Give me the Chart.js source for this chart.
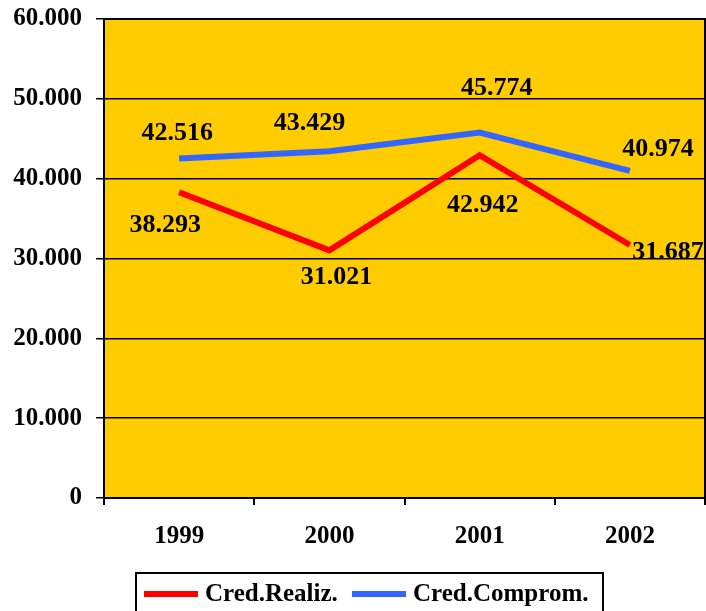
<!DOCTYPE html>
<html>
<head>
<meta charset="utf-8">
<script src="https://cdn.jsdelivr.net/npm/chart.js@4/dist/chart.umd.min.js"></script>
<style>
html,body{margin:0;padding:0;background:#fff;}
#wrap{width:706px;height:611px;position:relative;}
</style>
</head>
<body>
<div id="wrap"><canvas id="c" width="706" height="611"></canvas></div>
<script>
const categories = ['1999', '2000', '2001', '2002'];
const credRealiz = [38293, 31021, 42942, 31687];
const credComprom = [42516, 43429, 45774, 40974];
const seriesNames = ['Cred.Realiz.', 'Cred.Comprom.'];
const yTicks = [0, 10000, 20000, 30000, 40000, 50000, 60000];

// label placement offsets (style only)
const labelOffsets = [
  [[-14, 33], [7, 27], [3, 50], [38, 7]],
  [[-2, -25], [-20, -28], [17, -44], [28, -22]]
];

const FONT = "'Liberation Serif', 'Times New Roman', serif";
function fmt(v){ return v === 0 ? '0' : (v/1000).toFixed(3); }

const bgPlugin = {
  id: 'bg',
  beforeDraw(chart){
    const {ctx, chartArea:a} = chart;
    ctx.save();
    ctx.fillStyle = '#FFCC00';
    ctx.fillRect(a.left, a.top, a.right - a.left, a.bottom - a.top);
    ctx.restore();
  },
  afterDraw(chart){
    const {ctx, chartArea:a} = chart;
    ctx.save();
    ctx.strokeStyle = '#000';
    ctx.lineWidth = 2;
    ctx.strokeRect(a.left, a.top, a.right - a.left, a.bottom - a.top);
    // data labels
    ctx.fillStyle = '#000';
    ctx.font = 'bold 26px ' + FONT;
    ctx.textAlign = 'center';
    ctx.textBaseline = 'middle';
    chart.data.datasets.forEach((ds, di) => {
      const meta = chart.getDatasetMeta(di);
      meta.data.forEach((pt, i) => {
        const off = labelOffsets[di][i];
        ctx.fillText(fmt(ds.data[i]), pt.x + off[0], pt.y + off[1]);
      });
    });
    // legend
    ctx.lineWidth = 2;
    ctx.strokeStyle = '#000';
    ctx.strokeRect(136, 573, 467, 60);
    const items = [
      {x: 144, color: chart.data.datasets[0].borderColor, text: chart.data.datasets[0].label},
      {x: 352, color: chart.data.datasets[1].borderColor, text: chart.data.datasets[1].label}
    ];
    ctx.font = 'bold 25px ' + FONT;
    ctx.textAlign = 'left';
    items.forEach(it => {
      ctx.strokeStyle = it.color;
      ctx.lineWidth = 6;
      ctx.beginPath();
      ctx.moveTo(it.x, 594);
      ctx.lineTo(it.x + 54, 594);
      ctx.stroke();
      ctx.fillStyle = '#000';
      ctx.fillText(it.text, it.x + 61, 595);
    });
    ctx.restore();
  }
};

new Chart(document.getElementById('c'), {
  type: 'line',
  data: {
    labels: categories,
    datasets: [
      {label: seriesNames[0], data: credRealiz, borderColor: '#FF0000', backgroundColor: '#FF0000', borderWidth: 6, pointRadius: 0, tension: 0},
      {label: seriesNames[1], data: credComprom, borderColor: '#3366FF', backgroundColor: '#3366FF', borderWidth: 6, pointRadius: 0, tension: 0}
    ]
  },
  options: {
    responsive: false,
    animation: false,
    devicePixelRatio: 1,
    layout: {padding: {top: 19, right: 1, bottom: 0, left: 0}},
    plugins: {legend: {display: false}, tooltip: {enabled: false}},
    scales: {
      x: {
        offset: true,
        grid: {offset: true, drawOnChartArea: false, drawTicks: true, tickLength: 7, color: '#000', lineWidth: 2},
        border: {display: true, color: '#000', width: 2},
        ticks: {color: '#000', font: {family: FONT, size: 25, weight: 'bold'}, padding: 17, maxRotation: 0},
        afterFit(s){ s.height = 113; s.paddingLeft = 0; s.paddingRight = 0; }
      },
      y: {
        min: 0, max: 60000,
        afterBuildTicks(s){ s.ticks = yTicks.map(v => ({value: v})); },
        grid: {color: '#000', lineWidth: 1.5, tickLength: 8, drawTicks: true},
        border: {display: true, color: '#000', width: 2},
        ticks: {color: '#000', font: {family: FONT, size: 25, weight: 'bold'}, padding: 14, callback: v => fmt(v)},
        afterFit(s){ s.width = 104; s.paddingTop = 0; s.paddingBottom = 0; }
      }
    }
  },
  plugins: [bgPlugin]
});
</script>
</body>
</html>
